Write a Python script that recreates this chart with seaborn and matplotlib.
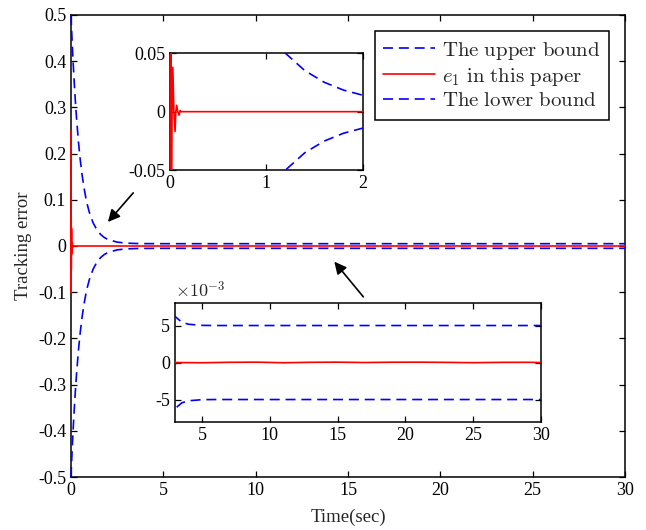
import numpy as np
import pandas as pd
import matplotlib
matplotlib.use("Agg")
import matplotlib.pyplot as plt
from matplotlib.ticker import FuncFormatter
import seaborn as sns

# ---------------- data ----------------
t_bound = [0, 0.05, 0.1, 0.15, 0.2, 0.25, 0.3, 0.4, 0.5, 0.6, 0.7, 0.8, 0.9, 1.0,
           1.2, 1.4, 1.6, 1.8, 2.0, 2.5, 3.0, 3.5, 4.0, 5.0, 6.0, 10.0, 15.0, 20.0, 25.0, 30.0]
upper_bound = [0.500, 0.453, 0.410, 0.372, 0.337, 0.305, 0.277, 0.227, 0.187, 0.154, 0.127,
               0.105, 0.087, 0.072, 0.0499, 0.0351, 0.0252, 0.0185, 0.0141, 0.00834,
               0.00623, 0.00545, 0.00517, 0.00502, 0.00500, 0.00500, 0.00500, 0.00500,
               0.00500, 0.00500]
lower_bound = [-0.500, -0.453, -0.410, -0.372, -0.337, -0.305, -0.277, -0.227, -0.187, -0.154,
               -0.127, -0.105, -0.087, -0.072, -0.0499, -0.0351, -0.0252, -0.0185, -0.0141,
               -0.00834, -0.00623, -0.00545, -0.00517, -0.00502, -0.00500, -0.00500,
               -0.00500, -0.00500, -0.00500, -0.00500]

t_err = [0, 0.005, 0.01, 0.015, 0.02, 0.029, 0.04, 0.052, 0.06, 0.069, 0.08, 0.094, 0.105,
         0.115, 0.13, 0.5, 1.0, 2.0, 3.0, 5.0, 7.0, 9.0, 11.0, 13.0, 15.0, 17.0, 19.0, 21.0,
         23.0, 25.0, 27.0, 29.0, 30.0]
e1 = [0.25, -0.10, 0.06, -0.05, 0.0, 0.038, 0.0, -0.017, 0.0, 0.0055, 0.0, -0.003, 0.001,
      0.0, 0.0, 0.0, 0.0, 0.0, 0.0, -0.00003, 0.00003, 0.00005, -0.00003, 0.00003, 0.00005,
      0.0, 0.00004, 0.00005, 0.00002, -0.00002, 0.00002, 0.00003, 0.0]

main_xticks = [0, 5, 10, 15, 20, 25, 30]
main_yticks = [-0.5, -0.4, -0.3, -0.2, -0.1, 0, 0.1, 0.2, 0.3, 0.4, 0.5]
legend_labels = [r"$\mathrm{The\ upper\ bound}$", r"$e_1\ \mathrm{in\ this\ paper}$",
                 r"$\mathrm{The\ lower\ bound}$"]

# ---------------- style ----------------
sns.set_style("ticks")
plt.rcParams["font.family"] = ["Liberation Serif", "DejaVu Serif"]
plt.rcParams["mathtext.fontset"] = "cm"
plt.rcParams["axes.unicode_minus"] = False
plt.rcParams["xtick.direction"] = "in"
plt.rcParams["ytick.direction"] = "in"
plt.rcParams["axes.linewidth"] = 1.1
plt.rcParams["axes.edgecolor"] = "black"
plt.rcParams["path.simplify"] = False

BLUE = "#0000ff"
RED = "#ff0000"
DASH = [6, 3.5]

df_b = pd.DataFrame({"t": t_bound, "up": upper_bound, "lo": lower_bound})
df_e = pd.DataFrame({"t": t_err, "e": e1})

fmt = FuncFormatter(lambda v, p: f"{v:g}")


def draw(ax, lw=1.2, labels=None, clip=True):
    lab = labels if labels else [None, None, None]
    sns.lineplot(data=df_b, x="t", y="up", ax=ax, color=BLUE, lw=lw, sort=False,
                 estimator=None, label=lab[0], legend=False, zorder=3)
    ax.lines[-1].set_dashes(DASH)
    ax.lines[-1].set_clip_on(clip)
    sns.lineplot(data=df_e, x="t", y="e", ax=ax, color=RED, lw=lw, sort=False,
                 estimator=None, label=lab[1], legend=False, zorder=3)
    ax.lines[-1].set_clip_on(clip)
    sns.lineplot(data=df_b, x="t", y="lo", ax=ax, color=BLUE, lw=lw, sort=False,
                 estimator=None, label=lab[2], legend=False, zorder=3)
    ax.lines[-1].set_dashes(DASH)
    ax.lines[-1].set_clip_on(clip)
    ax.set_xlabel("")
    ax.set_ylabel("")
    ax.tick_params(top=True, right=True, length=4, width=0.9, colors="black")
    for s in ax.spines.values():
        s.set_visible(True)
        s.set_color("black")


fig = plt.figure(figsize=(6.46, 5.30), dpi=100)

# main axes
ax = fig.add_axes([0.1099, 0.100, 0.8576, 0.8717])
draw(ax, lw=1.2, labels=legend_labels, clip=False)
ax.set_xlim(0, 30)
ax.set_ylim(-0.5, 0.5)
ax.set_xticks(main_xticks)
ax.set_yticks(main_yticks)
ax.xaxis.set_major_formatter(fmt)
ax.yaxis.set_major_formatter(fmt)
ax.tick_params(labelsize=13)
ax.set_xlabel("Time(sec)", fontsize=13.5, labelpad=7)
ax.set_ylabel("Tracking error", fontsize=13.5, labelpad=4)
leg = ax.legend(loc="upper right", bbox_to_anchor=(0.971, 0.965), fontsize=15,
                frameon=True, fancybox=False, framealpha=1, edgecolor="black",
                borderpad=0.4, labelspacing=0.2, handlelength=2.5, handletextpad=0.35,
                borderaxespad=0.0)
leg.get_frame().set_linewidth(1.1)
leg.set_zorder(5)
for h in leg.get_lines():
    h.set_linewidth(1.2)

ax.annotate("", xy=(2.0, 0.052), xytext=(3.37, 0.115),
            arrowprops=dict(arrowstyle="-|>", color="black", lw=1.2,
                            mutation_scale=18, shrinkA=0, shrinkB=0))
ax.annotate("", xy=(14.26, -0.034), xytext=(15.83, -0.11),
            arrowprops=dict(arrowstyle="-|>", color="black", lw=1.2,
                            mutation_scale=18, shrinkA=0, shrinkB=0))

# inset 1
ax1 = fig.add_axes([0.2632, 0.6792, 0.2983, 0.2202])
draw(ax1, lw=1.2)
ax1.set_xlim(0, 2)
ax1.set_ylim(-0.05, 0.05)
ax1.set_xticks([0, 1, 2])
ax1.set_yticks([-0.05, 0, 0.05])
ax1.xaxis.set_major_formatter(fmt)
ax1.yaxis.set_major_formatter(fmt)
ax1.tick_params(labelsize=13)

# inset 2
ax2 = fig.add_axes([0.2709, 0.2043, 0.5661, 0.2234])
draw(ax2, lw=1.2)
ax2.set_xlim(3, 30)
ax2.set_ylim(-0.008, 0.008)
ax2.set_xticks([5, 10, 15, 20, 25, 30])
ax2.set_yticks([-0.005, 0, 0.005])
ax2.xaxis.set_major_formatter(fmt)
ax2.yaxis.set_major_formatter(FuncFormatter(lambda v, p: f"{round(v * 1000):g}"))
ax2.tick_params(labelsize=13)
ax2.text(0.0, 1.02, r"$\times10^{\mathrm{-3}}$", transform=ax2.transAxes,
         fontsize=13, ha="left", va="bottom")

fig.savefig("out.png", dpi=100)
